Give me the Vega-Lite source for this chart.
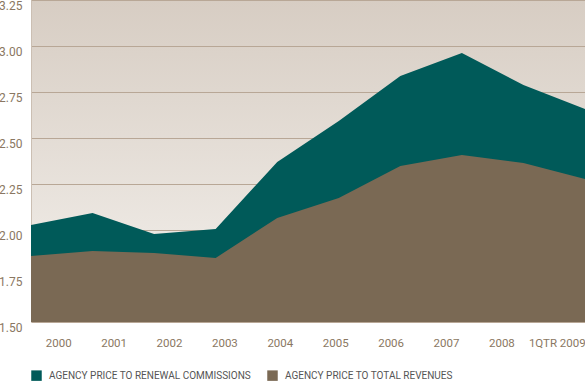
{
  "$schema": "https://vega.github.io/schema/vega-lite/v6.json",
  "width": 554,
  "height": 322,
  "autosize": {"type": "none"},
  "padding": {"left": 31, "top": 0, "right": 0, "bottom": 61},
  "background": "#ffffff",
  "config": {
    "view": {
      "stroke": null,
      "fill": {"gradient": "linear", "x1": 0, "y1": 0, "x2": 0, "y2": 1,
        "stops": [{"offset": 0, "color": "#d7cdc3"}, {"offset": 1, "color": "#f4f1ed"}]}
    },
    "font": "Roboto",
    "axis": {"labelFont": "Roboto", "labelColor": "#8a7762", "labelFontSize": 12},
    "legend": {"labelFont": "Roboto"}
  },
  "datasets": {
    "series": [
      {"i": 0, "s": "AGENCY PRICE TO RENEWAL COMMISSIONS", "v": 2.027},
      {"i": 1, "s": "AGENCY PRICE TO RENEWAL COMMISSIONS", "v": 2.092},
      {"i": 2, "s": "AGENCY PRICE TO RENEWAL COMMISSIONS", "v": 1.978},
      {"i": 3, "s": "AGENCY PRICE TO RENEWAL COMMISSIONS", "v": 2.005},
      {"i": 4, "s": "AGENCY PRICE TO RENEWAL COMMISSIONS", "v": 2.37},
      {"i": 5, "s": "AGENCY PRICE TO RENEWAL COMMISSIONS", "v": 2.592},
      {"i": 6, "s": "AGENCY PRICE TO RENEWAL COMMISSIONS", "v": 2.837},
      {"i": 7, "s": "AGENCY PRICE TO RENEWAL COMMISSIONS", "v": 2.962},
      {"i": 8, "s": "AGENCY PRICE TO RENEWAL COMMISSIONS", "v": 2.788},
      {"i": 9, "s": "AGENCY PRICE TO RENEWAL COMMISSIONS", "v": 2.658},
      {"i": 0, "s": "AGENCY PRICE TO TOTAL REVENUES", "v": 1.859},
      {"i": 1, "s": "AGENCY PRICE TO TOTAL REVENUES", "v": 1.886},
      {"i": 2, "s": "AGENCY PRICE TO TOTAL REVENUES", "v": 1.875},
      {"i": 3, "s": "AGENCY PRICE TO TOTAL REVENUES", "v": 1.848},
      {"i": 4, "s": "AGENCY PRICE TO TOTAL REVENUES", "v": 2.065},
      {"i": 5, "s": "AGENCY PRICE TO TOTAL REVENUES", "v": 2.174},
      {"i": 6, "s": "AGENCY PRICE TO TOTAL REVENUES", "v": 2.348},
      {"i": 7, "s": "AGENCY PRICE TO TOTAL REVENUES", "v": 2.408},
      {"i": 8, "s": "AGENCY PRICE TO TOTAL REVENUES", "v": 2.364},
      {"i": 9, "s": "AGENCY PRICE TO TOTAL REVENUES", "v": 2.277}
    ],
    "labels": [
      {"year": "2000"}, {"year": "2001"}, {"year": "2002"}, {"year": "2003"}, {"year": "2004"},
      {"year": "2005"}, {"year": "2006"}, {"year": "2007"}, {"year": "2008"}, {"year": "1QTR 2009"}
    ]
  },
  "layer": [
    {
      "data": {"name": "series"},
      "mark": {"type": "area", "opacity": 1},
      "encoding": {
        "x": {"field": "i", "type": "quantitative", "scale": {"domain": [0, 9], "nice": false, "zero": false}, "axis": null},
        "y": {"field": "v", "type": "quantitative", "stack": null,
          "scale": {"domain": [1.5, 3.25], "nice": false, "zero": false},
          "axis": {"values": [1.5, 1.75, 2.0, 2.25, 2.5, 2.75, 3.0, 3.25], "format": ".2f", "title": null,
            "ticks": false, "labelPadding": 9, "labelBaseline": "top", "labelFlush": false,
            "grid": true, "gridColor": "#b8a796", "gridWidth": 1.2,
            "domain": true, "domainColor": "#cbbfb3", "domainWidth": 1}},
        "color": {"field": "s", "type": "nominal",
          "scale": {"domain": ["AGENCY PRICE TO RENEWAL COMMISSIONS", "AGENCY PRICE TO TOTAL REVENUES"], "range": ["#005a59", "#7a6954"]},
          "legend": {"title": null, "orient": "none", "legendX": 0, "legendY": 370, "direction": "horizontal",
            "symbolType": "square", "symbolSize": 110, "symbolStrokeWidth": 0, "symbolOpacity": 1,
            "labelFontSize": 10, "labelColor": "#555555", "labelOffset": 7, "columnPadding": 16, "labelLimit": 400}}
      }
    },
    {
      "data": {"name": "labels"},
      "mark": {"type": "rule", "opacity": 0},
      "encoding": {
        "x": {"field": "year", "type": "nominal", "sort": null,
          "scale": {"type": "band", "paddingInner": 0, "paddingOuter": 0},
          "axis": {"orient": "bottom", "title": null, "ticks": false, "domain": false, "labelAngle": 0, "labelPadding": 15, "labelFontSize": 11.5}}
      }
    }
  ],
  "resolve": {"scale": {"x": "independent"}, "axis": {"x": "independent"}}
}
